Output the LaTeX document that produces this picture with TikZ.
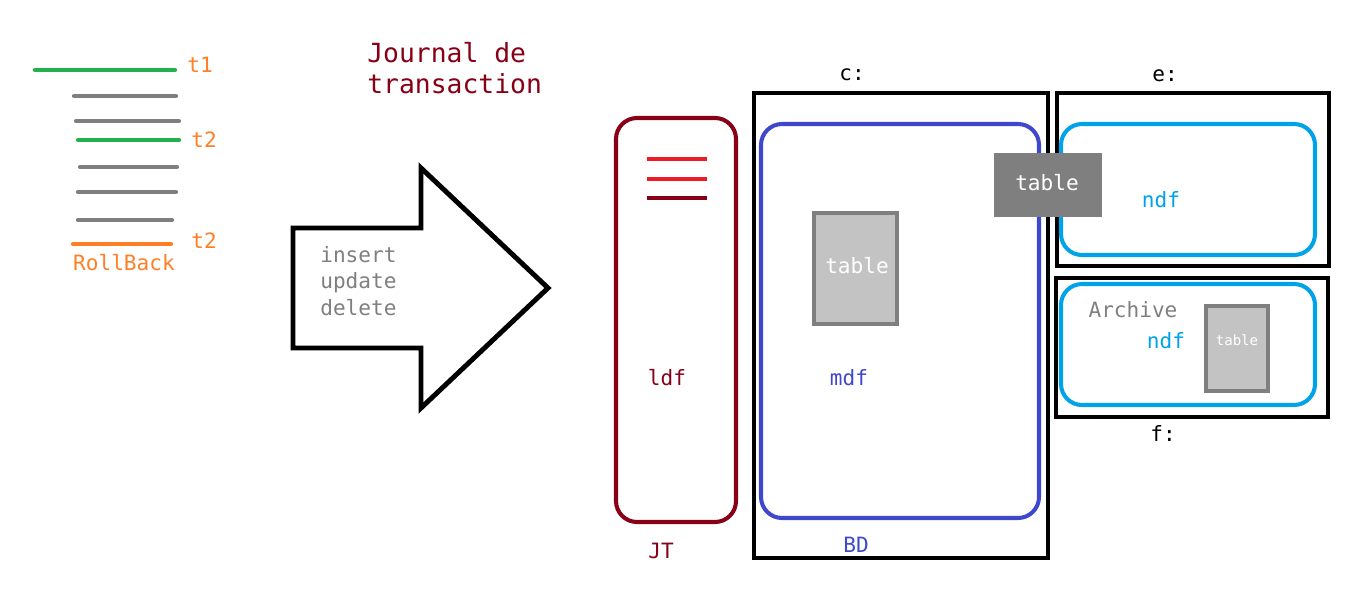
\documentclass[tikz,border=0pt]{standalone}
\usepackage{fontspec}
\setmainfont{DejaVu Sans Mono}
\usepackage{xcolor}
\definecolor{wine}{HTML}{880015}
\definecolor{paintred}{HTML}{ED1C24}
\definecolor{paintgreen}{HTML}{22B14C}
\definecolor{paintorange}{HTML}{FF7F27}
\definecolor{paintgray}{HTML}{7F7F7F}
\definecolor{lightgray}{HTML}{C3C3C3}
\definecolor{indigo}{HTML}{3F48CC}
\definecolor{turquoise}{HTML}{00A2E8}
\usepackage{tikz}
\usetikzlibrary{positioning,calc}

\tikzset{
  txt/.style={inner sep=0pt,font=\fontsize{12}{14}\selectfont},
  logline/.style={line width=2.4pt,line cap=round,paintgray},
  frame/.style={line width=2.8pt,black},
  rbox/.style={line width=2.3pt,rounded corners=0.42cm},
  tblbox/.style={draw=paintgray,fill=lightgray,line width=2.6pt}
}

\begin{document}
\begin{tikzpicture}[x=0.02cm,y=-0.02cm]
\useasboundingbox (0,0) rectangle (1355,588);

% transactions
\draw[logline,paintgreen] (35,70) -- (175,70);
\draw[logline] (74,96) -- (176,96);
\draw[logline] (76,121) -- (179,121);
\draw[logline,paintgreen] (78,140) -- (179,140);
\draw[logline] (80,167) -- (177,167);
\draw[logline] (78,192) -- (176,192);
\draw[logline] (78,220) -- (172,220);
\draw[logline,paintorange] (73,244) -- (171,244);
\node[txt,paintorange] (t1) at (200,65) {t1};
\node[txt,paintorange] (t2a) at (204,140) {t2};
\node[txt,paintorange] (t2b) at (204,241) {t2};
\node[txt,paintorange] (rb) at (124,263) {RollBack};

\node[txt,wine,align=left,anchor=west,font=\fontsize{15}{17.6}\selectfont] (journal) at (367,68) {Journal de\\transaction};

% big arrow
\draw[line width=2.8pt,line join=miter] (293,228) -- (421,228) -- (421,168) -- (548,288) -- (421,408) -- (421,348) -- (293,348) -- cycle;
\node[txt,paintgray,align=left,anchor=west,font=\fontsize{12}{15}\selectfont] (ops) at (320,281) {insert\\update\\delete};

% JT
\draw[rbox,wine] (616,118) rectangle (736,522);
\draw[line width=2.8pt,paintred] (647,159) -- (707,159);
\draw[line width=2.8pt,paintred] (647,179) -- (707,179);
\draw[line width=2.8pt,wine] (647,198) -- (707,198);
\node[txt,wine] (ldf) at (667,378) {ldf};
\node[txt,wine] (jt) at (661,551) {JT};

% c:
\draw[frame] (754,93) rectangle (1048,558);
\node[txt] (c) at (852,75) {c:};
\draw[rbox,indigo] (761,124) rectangle (1039,518);
\draw[tblbox] (814,213) rectangle (897,324);
\node[txt,white] (tab1) at (857,266) {table};
\node[txt,indigo] (mdf) at (849,378) {mdf};
\node[txt,indigo] (bd) at (856,545) {BD};

% e:
\draw[frame] (1057,93) rectangle (1329,266);
\node[txt] (e) at (1165,76) {e:};
\draw[rbox,turquoise] (1061,124) rectangle (1315,255);
\node[txt,turquoise] (ndf1) at (1161,200) {ndf};

% f:
\draw[frame] (1056,278) rectangle (1328,417);
\node[txt] (f) at (1163,433) {f:};
\draw[rbox,turquoise] (1061,284) rectangle (1315,405);
\node[txt,paintgray] (arch) at (1133,310) {Archive};
\node[txt,turquoise] (ndf2) at (1166,341) {ndf};
\draw[tblbox] (1206,306) rectangle (1268,391);
\node[txt,white,font=\fontsize{8}{10}\selectfont] (tab3) at (1237,340) {table};

% moved table
\fill[paintgray] (994,153) rectangle (1102,217);
\node[txt,white] (tab2) at (1047,183) {table};
\end{tikzpicture}
\end{document}
